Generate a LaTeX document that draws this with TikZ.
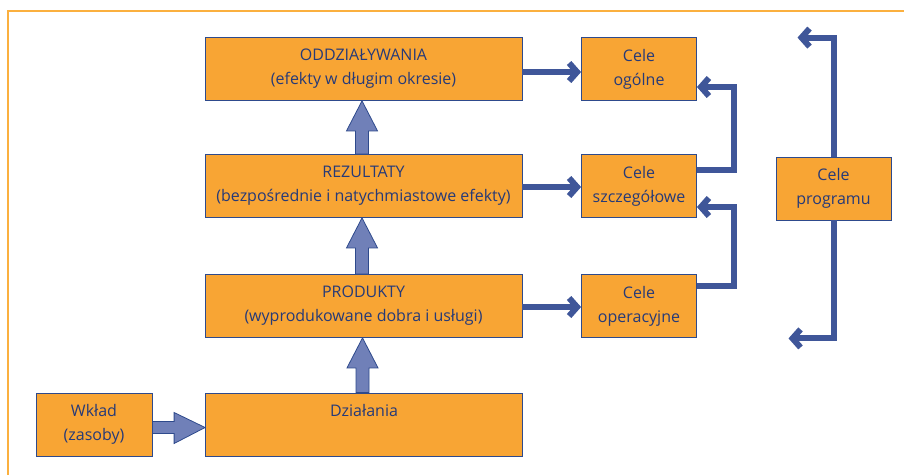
\documentclass[tikz,border=0pt]{standalone}
\usepackage{fontspec}
\setmainfont{Open Sans}
\usetikzlibrary{arrows.meta,calc}
\definecolor{boxfill}{HTML}{F8A534}
\definecolor{boxline}{HTML}{2E4A8C}
\definecolor{txtcol}{HTML}{263A78}
\definecolor{conncol}{HTML}{3F5699}
\definecolor{fatfill}{HTML}{7080B8}
\definecolor{framecol}{HTML}{FBB03F}
\begin{document}
\begin{tikzpicture}[x=1pt,y=-1pt,
  boxfont/.style={font=\fontsize{16}{24}\selectfont},
  box/.style={draw=boxline, line width=0.8pt, fill=boxfill, text=txtcol, boxfont,
    align=center, minimum height=63pt, inner sep=0pt},
  widebox/.style={box, minimum width=317pt},
  smallbox/.style={box, minimum width=115pt},
  linkarrow/.style={draw=conncol, line width=6pt, -{Straight Barb[length=8pt,width=18pt]}},
  fat/.style={fill=fatfill, draw=boxline, line width=0.8pt}]
\useasboundingbox (0,0) rectangle (904,475);
\draw[framecol, line width=2pt] (8,475) -- (8,11) -- (904,11);

\node[widebox] (odd) at (363.5,69) {ODDZIAŁYWANIA\\(efekty w długim okresie)};
\node[widebox] (rez) at (363.5,186) {REZULTATY\\(bezpośrednie i natychmiastowe efekty)};
\node[widebox] (prod) at (363.5,306) {PRODUKTY\\(wyprodukowane dobra i usługi)};
\node[widebox] (dzi) at (364,424.5) {};
\node[text=txtcol, boxfont] (dzit) at ($(dzi.north)+(0,18)$) {Działania};
\node[smallbox, minimum width=116pt] (wk) at (94,424.5) {Wkład\\(zasoby)};

\node[smallbox] (ogol) at (639,69) {Cele\\ogólne};
\node[smallbox] (szcz) at (639,186) {Cele\\szczegółowe};
\node[smallbox] (oper) at (639,306) {Cele\\operacyjne};
\node[smallbox] (prog) at (833.5,188.5) {Cele\\programu};

% fat up arrows
\foreach \a/\b in {rez/odd, prod/rez, dzi/prod}{
  \path[fat] let \p1=(\a.north), \p2=(\b.south) in
    (\x1-8pt,\y1) -- (\x1-8pt,\y2-30pt) -- (\x1-17pt,\y2-30pt) -- (\x1-1.5pt,\y2)
    -- (\x1+14pt,\y2-30pt) -- (\x1+5pt,\y2-30pt) -- (\x1+5pt,\y1) -- cycle;
}
% fat right arrow
\path[fat] let \p1=(wk.east), \p2=(dzi.west) in
  (\x1,\y1+3pt) -- (\x1,\y1-9pt) -- (\x2-31pt,\y1-9pt) -- (\x2-31pt,\y1-19pt)
  -- (\x2,\y1-3pt) -- (\x2-31pt,\y1+12pt) -- (\x2-31pt,\y1+3pt) -- cycle;

% connectors
\draw[linkarrow] ($(odd.east)+(0,3)$) -- ($(ogol.west)+(0,3)$);
\draw[linkarrow] ($(rez.east)+(0,1)$) -- ($(szcz.west)+(0,1)$);
\draw[linkarrow] ($(prod.east)+(0,1)$) -- ($(oper.west)+(0,1)$);
\draw[linkarrow] ($(szcz.east)+(0,-16)$) -- ++(37,0) |- ($(ogol.east)+(0,18)$);
\draw[linkarrow] ($(oper.east)+(0,-20)$) -- ++(37,0) |- ($(szcz.east)+(0,21)$);
\draw[linkarrow] (prog.north) -- ++(0,-119) -- ++(-36,0);
\draw[linkarrow] (prog.south) -- ++(0,118) -- ++(-45,0);
\end{tikzpicture}
\end{document}
